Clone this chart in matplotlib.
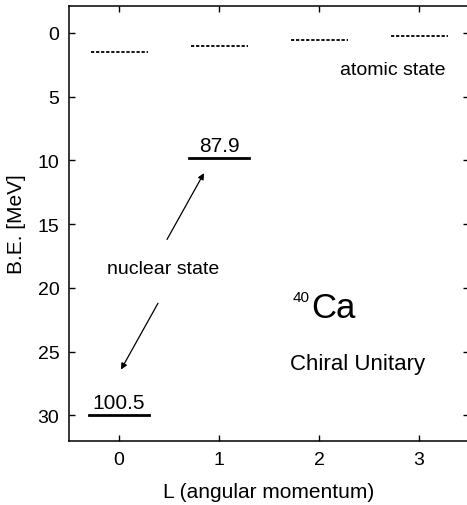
import numpy as np
import matplotlib
matplotlib.use("Agg")
import matplotlib.pyplot as plt

plt.rcParams['font.family'] = ['Liberation Sans', 'DejaVu Sans']

# atomic states (dashed) and nuclear states (solid)
L_atomic = [0, 1, 2, 3]
BE_atomic = [1.5, 1.07, 0.57, 0.26]
L_nuclear = [0, 1]
BE_nuclear = [30.0, 9.85]
width_labels = ['100.5', '87.9']

fig = plt.figure(figsize=(4.67, 5.06), dpi=100)
ax = fig.add_axes([69 / 467, (506 - 442) / 506, 400 / 467, 435 / 506])

for L, be in zip(L_atomic, BE_atomic):
    ax.plot([L - 0.28, L + 0.29], [be, be], color='black', lw=1.3,
            linestyle=(0, (1.8, 1.0)))

for L, be, lab in zip(L_nuclear, BE_nuclear, width_labels):
    ax.plot([L - 0.3, L + 0.3], [be, be], color='black', lw=2.0)
    ax.text(L, be - 0.55, lab, ha='center', va='baseline', fontsize=15)

arrow = dict(arrowstyle='-|>', color='black', lw=0.9, mutation_scale=9,
             shrinkA=0, shrinkB=0)
ax.annotate('', xy=(0.85, 11.0), xytext=(0.48, 16.2), arrowprops=arrow)
ax.annotate('', xy=(0.02, 26.4), xytext=(0.39, 21.2), arrowprops=arrow)

ax.text(0.44, 18.5, 'nuclear state', ha='center', va='center', fontsize=14)
ax.text(2.74, 2.87, 'atomic state', ha='center', va='center', fontsize=14)
ax.text(1.74, 21.0, '40', ha='left', va='baseline', fontsize=11)
ax.text(1.92, 22.25, 'Ca', ha='left', va='baseline', fontsize=25)
ax.text(2.39, 25.9, 'Chiral Unitary', ha='center', va='center', fontsize=16)

ax.set_xlim(-0.5, 3.5)
ax.set_ylim(32, -2.1)
ax.set_xticks([0, 1, 2, 3])
ax.set_yticks([0, 5, 10, 15, 20, 25, 30])
ax.tick_params(direction='in', length=4, width=1, labelsize=14, pad=7,
               top=True, right=True)
for s in ax.spines.values():
    s.set_linewidth(1.1)
ax.spines['right'].set_visible(False)

ax.set_xlabel('L (angular momentum)', fontsize=15, labelpad=10)
ax.set_ylabel('B.E. [MeV]', fontsize=15, labelpad=8)

fig.savefig('out.png', dpi=100)
